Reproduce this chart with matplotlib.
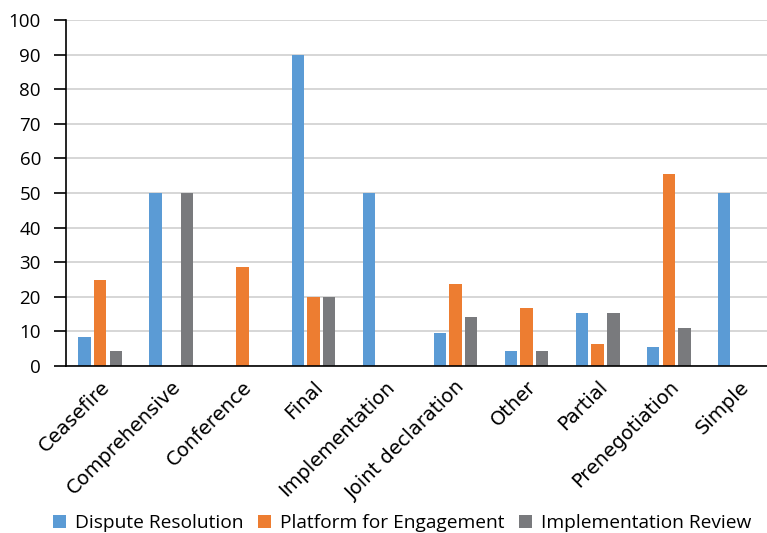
import matplotlib
matplotlib.use("Agg")
import matplotlib.pyplot as plt
import numpy as np

categories = ["Ceasefire", "Comprehensive", "Conference", "Final", "Implementation",
              "Joint declaration", "Other", "Partial", "Prenegotiation", "Simple"]
dispute_resolution = [8.3, 50, 0, 90, 50, 9.5, 4.2, 15.2, 5.6, 50]
platform_engagement = [25, 0, 28.6, 20, 0, 23.8, 16.7, 6.3, 55.6, 0]
implementation_review = [4.2, 50, 0, 20, 0, 14.3, 4.2, 15.2, 11.1, 0]
series_names = ["Dispute Resolution", "Platform for Engagement", "Implementation Review"]
colors = ["#5B9BD5", "#ED7D31", "#797A7D"]

W, H = 767, 533
fig = plt.figure(figsize=(W / 100, H / 100), dpi=100)
left, right, top, bottom = 66, 774, 20, 366
ax = fig.add_axes([left / W, 1 - bottom / H, (right - left) / W, (bottom - top) / H])

x = np.arange(len(categories))
off = 0.22
bw = 0.175
for i, (vals, name, c) in enumerate(zip([dispute_resolution, platform_engagement, implementation_review],
                                         series_names, colors)):
    ax.bar(x + (i - 1) * off, vals, width=bw, color=c, edgecolor="none", linewidth=0,
           label=name, zorder=3)

ax.set_xlim(-0.48, len(categories) - 0.52)
ax.set_ylim(0, 100)
ax.set_yticks(np.arange(0, 101, 10))
ax.yaxis.grid(True, color="#D0D0D0", linewidth=1.2, zorder=0)
ax.set_axisbelow(True)
for s in ["top", "right"]:
    ax.spines[s].set_visible(False)
ax.spines["left"].set_color("black")
ax.spines["bottom"].set_color("black")
ax.spines["left"].set_linewidth(1.2)
ax.spines["bottom"].set_linewidth(1.2)
ax.spines["bottom"].set_zorder(4)
ax.tick_params(axis="y", length=9, width=1.2, labelsize=13.5, pad=9)
for lab in ax.get_yticklabels():
    lab.set_family("Open Sans")
ax.tick_params(axis="x", length=0, pad=8)
ax.set_xticks(x)
ax.set_xticklabels(categories, rotation=45, ha="right", rotation_mode="anchor",
                   fontsize=14, family="DejaVu Sans")

handles, labels = ax.get_legend_handles_labels()
leg = fig.legend(handles, labels, loc="center left", bbox_to_anchor=(53 / W, 1 - 523 / H),
                 ncol=3, frameon=False, prop={"family": "Open Sans", "size": 13.8},
                 handlelength=0.7, handleheight=0.7, handletextpad=0.45, columnspacing=0.75,
                 borderaxespad=0, borderpad=0)

fig.savefig("out.png", dpi=100)
